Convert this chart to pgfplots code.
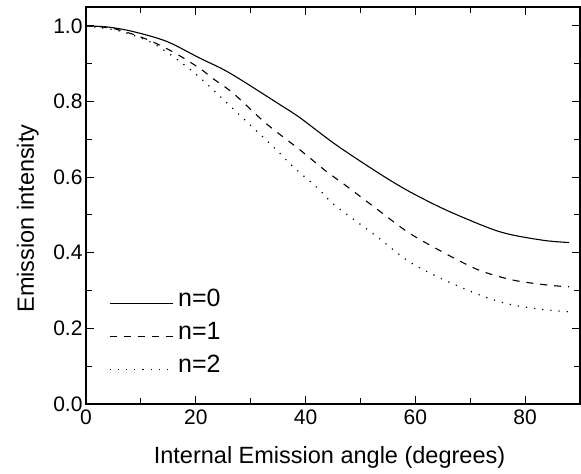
\documentclass[border=0pt]{standalone}
\usepackage{pgfplots}
\pgfplotsset{compat=1.18}
\usepackage{fontspec}
\setmainfont{Liberation Sans}
\begin{document}
\begin{tikzpicture}
\begin{axis}[
  scale only axis,
  width=494pt, height=397pt,
  xmin=0, xmax=90, ymin=0, ymax=1.05,
  xtick={0,20,40,60,80},
  ytick={0,0.2,0.4,0.6,0.8,1.0},
  minor xtick={10,30,50,70},
  minor ytick={0.1,0.3,0.5,0.7,0.9},
  tick align=inside,
  major tick length=8pt, minor tick length=6pt,
  tick style={black, line width=1pt},
  axis line style={line width=1.2pt},
  /pgf/number format/assume math mode=true,
  yticklabel style={/pgf/number format/.cd, fixed, fixed zerofill, precision=1},
  ticklabel style={font=\fontsize{21}{25}\selectfont},
  xticklabel style={yshift=-2pt},
  label style={font=\fontsize{23.5}{28}\selectfont, inner sep=0pt},
  xlabel={Internal Emission angle (degrees)},
  ylabel={Emission intensity},
  xlabel style={at={(axis description cs:0.493,0)}, anchor=base, yshift=-59pt},
  ylabel style={at={(axis description cs:-0.1053,0.467)}, anchor=base},
  legend style={draw=none, fill=none, at={(0.04,0.30)}, anchor=north west,
    font=\fontsize{25}{30}\selectfont, row sep=0pt, column sep=4pt,
    nodes={inner sep=1pt, text height=18pt, text depth=13pt}},
  legend cell align=left,
  legend image code/.code={\draw[#1] (0pt,0pt) -- (63pt,0pt);},
]
\addplot[black, line width=1.1pt, smooth, tension=0.5] coordinates {
(0,1.0) (4,0.997) (8.6,0.985) (14.7,0.959) (20.7,0.915) (25,0.885) (28.6,0.854)
(35.3,0.792) (38.9,0.758) (45.6,0.685) (53.5,0.609) (58.9,0.562)
(65.6,0.513) (73.5,0.465) (77.7,0.447) (83.8,0.432) (88,0.427)};
\addlegendentry{n=0}
\addplot[black, line width=1.1pt, smooth, tension=0.5, dash pattern=on 7pt off 7pt] coordinates {
(0,1.0) (5,0.993) (11,0.965) (16,0.93) (20.7,0.888) (23.1,0.861) (26.8,0.822)
(32.8,0.742) (38.9,0.673) (43.8,0.615) (47.4,0.577) (53.5,0.51) (58.9,0.452)
(65.6,0.397) (71.6,0.354) (77.7,0.328) (83.8,0.315) (88,0.31)};
\addlegendentry{n=1}
\addplot[black, line width=1.2pt, smooth, tension=0.5, dash pattern=on 1.2pt off 7pt] coordinates {
(0,1.0) (5,0.99) (8,0.978) (12.2,0.954) (17.1,0.906) (21.3,0.856) (28.6,0.756)
(34.7,0.672) (37.7,0.628) (42.2,0.571) (45.3,0.526) (52.8,0.445) (58.9,0.376)
(65.6,0.326) (72.5,0.284) (77.7,0.262) (83.8,0.249) (88,0.244)};
\addlegendentry{n=2}
\end{axis}
\path ([shift={(-86pt,-69pt)}]current axis.south west) rectangle ([shift={(1pt,7pt)}]current axis.north east);
\end{tikzpicture}
\end{document}
